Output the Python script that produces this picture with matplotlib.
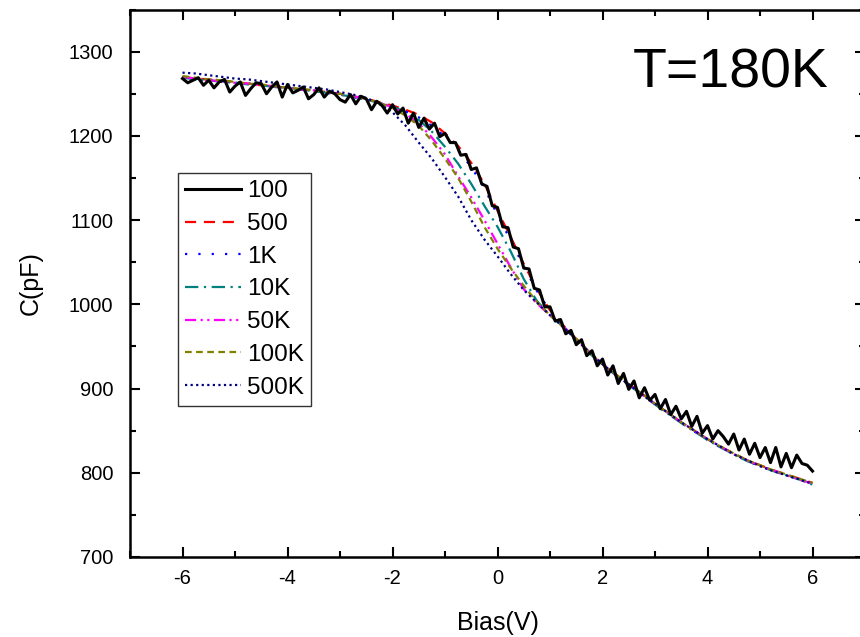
import numpy as np
import matplotlib
matplotlib.use("Agg")
import matplotlib.pyplot as plt

plt.rcParams['font.family'] = ['Liberation Sans', 'DejaVu Sans']
plt.rcParams['axes.unicode_minus'] = False

# ---- data ----
bias_fine = np.round(np.arange(-6.0, 6.0001, 0.1), 2)
c_100 = [1268, 1263, 1266, 1269, 1260, 1266, 1257, 1264, 1267, 1252,
         1259, 1264, 1248, 1256, 1263, 1262, 1250, 1258, 1264, 1246,
         1261, 1251, 1254, 1258, 1244, 1249, 1257, 1246, 1253, 1250,
         1243, 1240, 1249, 1238, 1247, 1244, 1231, 1241, 1236, 1227,
         1237, 1226, 1233, 1215, 1227, 1210, 1221, 1208, 1215, 1199,
         1203, 1192, 1192, 1177, 1178, 1160, 1162, 1143, 1140, 1117,
         1115, 1092, 1091, 1068, 1066, 1043, 1042, 1019, 1017, 997,
         997, 980, 982, 965, 969, 952, 958, 939, 945, 927,
         935, 916, 927, 906, 918, 899, 909, 889, 901, 886,
         893, 876, 887, 869, 879, 864, 873, 855, 867, 847,
         856, 840, 850, 843, 834, 846, 827, 840, 822, 835,
         818, 830, 812, 830, 807, 823, 806, 821, 811, 809,
         802]

bias = np.round(np.arange(-6.0, 6.0001, 0.25), 2)
c_500 = [1270, 1268, 1267, 1265, 1264, 1262, 1260, 1259, 1257, 1255,
         1254, 1252, 1250, 1247, 1244, 1240, 1236, 1231, 1225, 1216,
         1203, 1188, 1168, 1143, 1111, 1080, 1048, 1018, 993, 975,
         959, 943, 929, 917, 905, 894, 882, 871, 860, 850,
         840, 831, 823, 815, 809, 803, 798, 793, 788]
c_1k = [1269, 1268, 1266, 1265, 1263, 1262, 1260, 1258, 1257, 1255,
        1253, 1251, 1249, 1246, 1243, 1239, 1235, 1229, 1222, 1212,
        1199, 1183, 1163, 1138, 1106, 1076, 1045, 1016, 992, 975,
        959, 943, 929, 916, 904, 893, 881, 870, 859, 849,
        839, 830, 822, 814, 808, 802, 797, 792, 787]
c_10k = [1269, 1267, 1266, 1264, 1263, 1261, 1260, 1258, 1257, 1255,
         1253, 1251, 1249, 1246, 1243, 1239, 1235, 1228, 1219, 1205,
         1187, 1167, 1143, 1117, 1092, 1063, 1030, 1004, 987, 974,
         958, 942, 928, 916, 904, 893, 881, 870, 859, 849,
         839, 830, 822, 814, 808, 802, 797, 792, 786]
c_50k = [1270, 1268, 1266, 1265, 1263, 1262, 1260, 1259, 1257, 1255,
         1254, 1252, 1250, 1247, 1244, 1239, 1234, 1226, 1215, 1198,
         1178, 1152, 1127, 1100, 1072, 1044, 1018, 1001, 987, 974,
         959, 943, 929, 916, 905, 893, 882, 871, 860, 850,
         840, 831, 822, 815, 808, 803, 797, 792, 787]
c_100k = [1271, 1269, 1267, 1266, 1264, 1262, 1261, 1259, 1257, 1256,
          1254, 1252, 1250, 1247, 1244, 1239, 1233, 1224, 1212, 1194,
          1173, 1150, 1122, 1092, 1066, 1043, 1022, 1003, 987, 973,
          959, 943, 929, 917, 905, 894, 882, 871, 860, 850,
          840, 831, 823, 815, 809, 803, 798, 793, 788]
c_500k = [1275, 1274, 1272, 1270, 1268, 1267, 1265, 1263, 1261, 1259,
          1257, 1255, 1252, 1249, 1245, 1238, 1228, 1212, 1192, 1173,
          1151, 1128, 1100, 1077, 1057, 1036, 1017, 1002, 987, 973,
          958, 943, 929, 916, 905, 893, 882, 871, 860, 850,
          840, 831, 822, 815, 808, 802, 797, 792, 787]

labels = ["100", "500", "1K", "10K", "50K", "100K", "500K"]
x_ticks = [-6, -4, -2, 0, 2, 4, 6]
y_ticks = [700, 800, 900, 1000, 1100, 1200, 1300]

# ---- figure ----
fig = plt.figure(figsize=(8.6, 6.37), dpi=100)
ax = fig.add_axes([130/860, 80/637, 735/860, 547.5/637])

ax.plot(bias_fine, c_100, color='black', lw=2.2, ls='-', label=labels[0], zorder=3)
ax.plot(bias, c_500, color='#FF0000', lw=1.6, ls=(0, (5, 3.5)), label=labels[1])
ax.plot(bias, c_1k, color='#0000FF', lw=1.6, ls=(0, (1, 5)), label=labels[2])
ax.plot(bias, c_10k, color='#008080', lw=1.6, ls=(0, (6, 2.5, 1, 2.5)), label=labels[3])
ax.plot(bias, c_50k, color='#FF00FF', lw=1.6, ls=(0, (5, 2, 1, 2, 1, 2)), label=labels[4])
ax.plot(bias, c_100k, color='#808000', lw=1.6, ls=(0, (3, 2)), label=labels[5])
ax.plot(bias, c_500k, color='#000080', lw=1.6, ls=(0, (1, 1.5)), label=labels[6])

ax.set_xlim(-7, 7)
ax.set_ylim(700, 1350)
ax.set_xticks(x_ticks)
ax.set_yticks(y_ticks)
ax.set_xticks(np.arange(-7, 7.01, 1), minor=True)
ax.set_yticks(np.arange(700, 1351, 50), minor=True)
ax.tick_params(which='both', direction='in', top=True, right=True, width=1.5)
ax.tick_params(which='major', length=7, labelsize=14.5)
ax.tick_params(axis='x', which='major', pad=9)
ax.tick_params(axis='y', which='major', pad=12)
ax.tick_params(which='minor', length=4)
for s in ax.spines.values():
    s.set_linewidth(1.8)

ax.set_xlabel("Bias(V)", fontsize=18, labelpad=16)
ax.set_ylabel("C(pF)", fontsize=18, labelpad=19)

ax.text((828-130)/735, (557-74)/547.5, "T=180K", transform=ax.transAxes, fontsize=40,
        ha='right', va='center')

leg = ax.legend(loc='upper left', bbox_to_anchor=((178-130)/735, (557-173)/547.5),
                borderaxespad=0, fontsize=17.5, frameon=True, fancybox=False,
                edgecolor='black', handlelength=2.3, handletextpad=0.25,
                labelspacing=0.44, borderpad=0.3)
leg.get_frame().set_linewidth(1.0)

fig.savefig("out.png", dpi=100)
